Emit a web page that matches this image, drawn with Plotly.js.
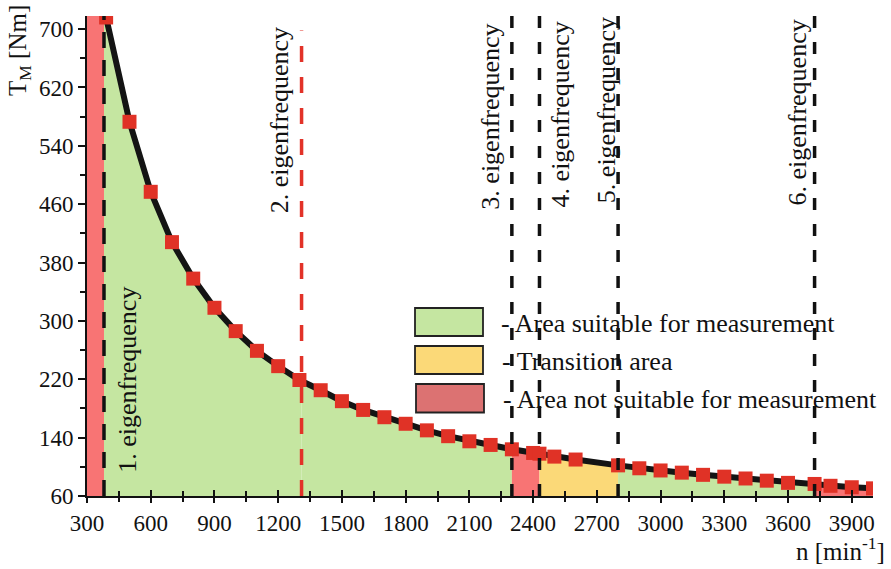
<!DOCTYPE html>
<html>
<head>
<meta charset="utf-8">
<script src="https://cdn.plot.ly/plotly-3.0.1.min.js"></script>
<style>html,body{margin:0;padding:0;background:#fff;}#chart{width:891px;height:569px;}</style>
</head>
<body>
<div id="chart"></div>
<script>
// ---- data ----
const speed = [390,500,600,700,800,900,1000,1100,1200,1300,1400,1500,1600,1700,1800,1900,2000,2100,2200,2300,2400,2430,2500,2600,2800,2900,3000,3100,3200,3300,3400,3500,3600,3725,3800,3900,4000];
const torque = [716,573,477,408,358,318,286,259,238,219,205,190,178,168,159,150,142,135,130,124,119,118,114,110,102,98,95,92,89,86.5,84,81,78,76.5,74,72,70.5];
const eigenfrequencies = [380,1310,2300,2430,2800,3725];
const eigenLabels = ["1. eigenfrequency","2. eigenfrequency","3. eigenfrequency","4. eigenfrequency","5. eigenfrequency","6. eigenfrequency"];
// zone kinds between consecutive boundaries (axis start, eigenfrequencies, axis end)
const zoneKinds = ["bad","good","good","bad","transition","good","bad"];
const legendLabels = ["- Area suitable for measurement","- Transition area","- Area not suitable for measurement"];
const xTicks = [300,600,900,1200,1500,1800,2100,2400,2700,3000,3300,3600,3900];
const yTicks = [60,140,220,300,380,460,540,620,700];
const xRange = [300,4000];
const yRange = [60,718];

// ---- styles ----
const FONT = "Liberation Serif";
const zoneColor = {good:"rgb(197,230,161)", transition:"rgb(251,217,120)", bad:"rgb(248,116,116)"};
const legendColor = ["rgb(197,230,161)","rgb(251,217,120)","rgb(220,114,114)"];

function interp(x){
  if (x <= speed[0]) return torque[0];
  if (x >= speed[speed.length-1]) return torque[torque.length-1];
  for (let i=1;i<speed.length;i++){
    if (x <= speed[i]){
      const t=(x-speed[i-1])/(speed[i]-speed[i-1]);
      return torque[i-1]+t*(torque[i]-torque[i-1]);
    }
  }
}
function segment(a,b){
  const xs=[a], ys=[interp(a)];
  for (let i=0;i<speed.length;i++){ if (speed[i]>a && speed[i]<b){ xs.push(speed[i]); ys.push(torque[i]); } }
  xs.push(b); ys.push(interp(b));
  return {xs,ys};
}

const traces = [];
const bounds = [xRange[0]].concat(eigenfrequencies).concat([xRange[1]]);
for (let z=0; z<zoneKinds.length; z++){
  const a=bounds[z], b=bounds[z+1];
  let xs, ys;
  if (z===0){ xs=[a,b]; ys=[yRange[1],yRange[1]]; }
  else { const s=segment(a,b); xs=s.xs; ys=s.ys; }
  traces.push({x:xs,y:ys,type:'scatter',mode:'none',fill:'tozeroy',fillcolor:zoneColor[zoneKinds[z]],showlegend:false,hoverinfo:'skip'});
}
traces.push({x:speed,y:torque,type:'scatter',mode:'lines+markers',
  line:{color:'#141414',width:6},
  marker:{symbol:'square',size:14,color:'rgb(224,50,38)'},
  showlegend:false});
traces.push({x:xRange,y:[null,null],xaxis:'x2',type:'scatter',mode:'none',showlegend:false,hoverinfo:'skip'});

const W=891,H=569,M={l:87,r:18,t:16,b:73};
const pw=W-M.l-M.r, ph=H-M.t-M.b;
const px=x=>(x-M.l)/pw, py=y=>(H-M.b-y)/ph;

const shapes=[], annotations=[];
const lineTop=[1,0.97,1,1,1,1];
const lineColor=['#111','rgb(226,50,40)','#111','#111','#111','#111'];
const lineDash=['16px,12px','16px,15px','12px,14px','12px,14px','12px,14px','12px,14px'];
const lineW=[3.5,3.5,3.5,3.5,3.5,3.5];
eigenfrequencies.forEach((f,i)=>{
  shapes.push({type:'line',layer:'above',xref:'x',yref:'paper',x0:f,x1:f,y0:0,y1:lineTop[i],
    line:{color:lineColor[i],width:lineW[i],dash:lineDash[i]}});
});
const labShift=[24,-22,-21,21,-12,-17];
const labY=[0.242,0.782,0.79,0.796,0.804,0.798];
eigenfrequencies.forEach((f,i)=>{
  annotations.push({xref:'x',yref:'paper',x:f,xshift:labShift[i],y:labY[i],xanchor:'center',yanchor:'middle',
    text:eigenLabels[i],textangle:-90,
    showarrow:false,font:{family:FONT,size:26,color:'#111'}});
});
// legend boxes
const boxes=[[415,483,308,336],[415,483,346,374],[416,484,384,412.5]];
const textPos=[[499,323],[499.5,361],[500.5,399]];
boxes.forEach((b,i)=>{
  shapes.push({type:'rect',xref:'paper',yref:'paper',x0:px(b[0]),x1:px(b[1]),y0:py(b[3]),y1:py(b[2]),
    fillcolor:legendColor[i],line:{color:'#222',width:1.8},layer:'above'});
  annotations.push({xref:'paper',yref:'paper',x:px(textPos[i][0]),y:py(textPos[i][1]),xanchor:'left',yanchor:'middle',
    text:legendLabels[i],showarrow:false,font:{family:FONT,size:26,color:'#111'}});
});
// axis titles
annotations.push({xref:'paper',yref:'paper',x:px(20),y:py(51),xanchor:'center',yanchor:'middle',text:'T<sub>M</sub> [Nm]',textangle:-90,showarrow:false,
  font:{family:FONT,size:25,color:'#111'}});
annotations.push({xref:'paper',yref:'paper',x:px(887),y:py(549),xanchor:'right',yanchor:'middle',text:'n [min<sup>-1</sup>]',showarrow:false,
  font:{family:FONT,size:25,color:'#111'}});

const layout={
  width:W,height:H,margin:M,paper_bgcolor:'#fff',plot_bgcolor:'#fff',showlegend:false,
  font:{family:FONT,size:23,color:'#111'},
  xaxis:{range:xRange,tickvals:xTicks,ticks:'outside',ticklen:5,tickwidth:2,tickcolor:'#111',
    showline:true,linecolor:'#111',linewidth:2,showgrid:false,zeroline:false,
    tickfont:{family:FONT,size:23,color:'#111'},
    minor:{tick0:300,dtick:150,ticks:'outside',ticklen:4,tickwidth:2,tickcolor:'#111'}},
  xaxis2:{range:xRange,overlaying:'x',anchor:'y',side:'bottom',tickvals:xTicks,ticks:'inside',ticklen:6,tickwidth:2,tickcolor:'#111',
    showticklabels:false,showline:false,showgrid:false,zeroline:false,
    minor:{tick0:300,dtick:150,ticks:'inside',ticklen:5,tickwidth:2,tickcolor:'#111'}},
  yaxis:{range:yRange,tickvals:yTicks,ticks:'outside',ticklen:7,tickwidth:2,tickcolor:'#111',
    showline:true,linecolor:'#111',linewidth:2,showgrid:false,zeroline:false,
    tickfont:{family:FONT,size:23,color:'#111'},
    minor:{tick0:60,dtick:40,ticks:'outside',ticklen:5,tickwidth:2,tickcolor:'#111'}},
  shapes:shapes,annotations:annotations
};
Plotly.newPlot('chart',traces,layout,{staticPlot:true});
</script>
</body>
</html>
